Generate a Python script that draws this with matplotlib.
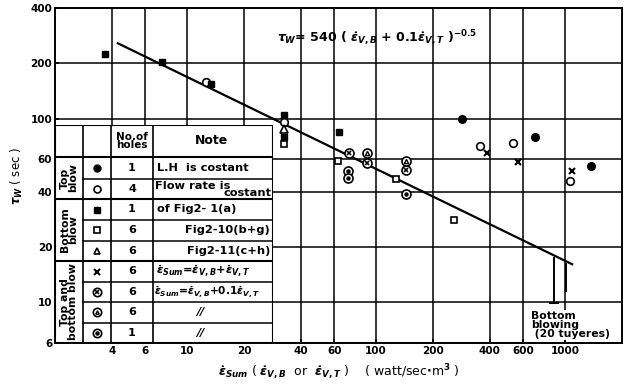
import numpy as np
import matplotlib.pyplot as plt

plt.rcParams['font.family'] = ['DejaVu Sans']
plt.rcParams['font.weight'] = 'bold'
plt.rcParams['mathtext.fontset'] = 'dejavusans'

# --- data ---
top1_x = [285, 690, 1370]            # top blow, 1 hole (filled circle)
top1_y = [99, 79, 55]
top4_x = [12.6, 32.6, 355, 530, 1060]  # top blow, 4 holes (open circle)
top4_y = [159, 96, 71, 74, 46]
bot1_x = [3.7, 7.4, 13.4, 32.6, 32.6, 64]  # bottom blow, 1 hole (filled square)
bot1_y = [224, 202, 155, 104, 79, 85]
bot6b_x = [32.6, 63, 128, 259]        # bottom blow, 6 holes (open square)
bot6b_y = [73, 59, 47, 28]
bot6c_x = [32.6]                      # bottom blow, 6 holes (triangle)
bot6c_y = [88]
tbsum_x = [387, 564, 1090]            # top+bottom, sum (cross)
tbsum_y = [65, 58, 52]
tbw_x = [72, 90, 144]                 # top+bottom, weighted (otimes)
tbw_y = [65, 57.5, 52.5]
tbtri_x = [90, 144]                   # circled triangle
tbtri_y = [65, 59]
tbdot_x = [71, 71, 144]               # circled dot
tbdot_y = [52, 47.5, 39]

fit_x = [4.3, 1090]
fit_y = [257, 16.1]

xticks = [4, 6, 10, 20, 40, 60, 100, 200, 400, 600, 1000]
yticks = [6, 10, 20, 40, 60, 100, 200, 400]

holes = ['1', '4', '1', '6', '6', '6', '6', '6', '1']
kinds = ['fcirc', 'ocirc', 'fsq', 'osq', 'tri', 'cross', 'otimes', 'ctri', 'odot']


def mark(a, x, y, kind, ms=5.5):
    kw = dict(ls='none', color='k', clip_on=False, zorder=5)
    if kind == 'fcirc':
        a.plot(x, y, 'o', ms=ms, mfc='k', mec='k', **kw)
    elif kind == 'ocirc':
        a.plot(x, y, 'o', ms=ms, mfc='white', mec='k', mew=1.2, **kw)
    elif kind == 'fsq':
        a.plot(x, y, 's', ms=ms - 0.5, mfc='k', mec='k', **kw)
    elif kind == 'osq':
        a.plot(x, y, 's', ms=ms - 0.5, mfc='white', mec='k', mew=1.2, **kw)
    elif kind == 'tri':
        a.plot(x, y, '^', ms=ms, mfc='white', mec='k', mew=1.2, **kw)
    elif kind == 'cross':
        a.plot(x, y, 'x', ms=ms - 0.5, mew=1.5, **kw)
    elif kind == 'otimes':
        a.plot(x, y, 'o', ms=ms + 1, mfc='white', mec='k', mew=1.2, **kw)
        a.plot(x, y, 'x', ms=ms - 2, mew=1.2, **kw)
    elif kind == 'ctri':
        a.plot(x, y, 'o', ms=ms + 1, mfc='white', mec='k', mew=1.2, **kw)
        a.plot(x, y, '^', ms=ms - 2.5, mfc='white', mec='k', mew=1, **kw)
    elif kind == 'odot':
        a.plot(x, y, 'o', ms=ms + 1, mfc='white', mec='k', mew=1.2, **kw)
        a.plot(x, y, 'o', ms=2.2, mfc='k', mec='k', **kw)


fig = plt.figure(figsize=(6.28, 3.87), dpi=100)
W, H = 628, 387
ax = fig.add_axes([55 / W, 1 - 343 / H, 567 / W, 335 / H])
ax.set_xscale('log')
ax.set_yscale('log')
ax.set_xlim(2, 2000)
ax.set_ylim(6, 400)
ax.set_xticks(xticks)
ax.set_xticklabels([str(t) for t in xticks])
ax.set_yticks(yticks)
ax.set_yticklabels([str(t) for t in yticks])
ax.minorticks_off()
ax.tick_params(labelsize=7.5, length=3, direction='in', width=1.2, pad=2)
for lab in ax.get_xticklabels() + ax.get_yticklabels():
    lab.set_fontweight('bold')
ax.grid(True, color='k', lw=1.1)
for s in ax.spines.values():
    s.set_linewidth(1.4)

ax.plot(fit_x, fit_y, color='k', lw=1.6, zorder=4)

mark(ax, top1_x, top1_y, 'fcirc')
mark(ax, top4_x, top4_y, 'ocirc')
mark(ax, bot1_x, bot1_y, 'fsq')
mark(ax, bot6b_x, bot6b_y, 'osq')
mark(ax, bot6c_x, bot6c_y, 'tri')
mark(ax, tbsum_x, tbsum_y, 'cross')
mark(ax, tbw_x, tbw_y, 'otimes')
mark(ax, tbtri_x, tbtri_y, 'ctri')
mark(ax, tbdot_x, tbdot_y, 'odot')

# bottom blowing bracket
ax.plot([875, 875], [17.4, 9.9], color='k', lw=1.4)
ax.plot([830, 920], [9.9, 9.9], color='k', lw=1.4)
ax.plot([1010, 1010], [16.1, 11.5], color='k', lw=1.4)
ax.text(660, 9.0, 'Bottom\nblowing\n (20 tuyeres)', fontsize=7.8, fontweight='bold',
        va='top', ha='left', linespacing=0.9,
        bbox=dict(facecolor='white', edgecolor='none', pad=0.5))

ax.text(30, 275,
        r'$\tau_W$= 540 ( $\dot{\varepsilon}_{V,B}$ + 0.1$\dot{\varepsilon}_{V,T}$ )$^{-0.5}$',
        fontsize=9, va='center', ha='left')

ax.set_ylabel(r'$\tau_W$ ( sec )', fontsize=8.5, labelpad=4)
ax.set_xlabel(r'$\dot{\varepsilon}_{Sum}$ ( $\dot{\varepsilon}_{V,B}$  or  $\dot{\varepsilon}_{V,T}$ )'
              '    ( watt/sec$\\cdot$m$^3$ )', fontsize=9, labelpad=5)

# --- legend table drawn in pixel units ---
tab = fig.add_axes([55 / W, 1 - 343 / H, (273 - 55) / W, (343 - 125) / H], zorder=10)
tab.set_xlim(55, 273)
tab.set_ylim(343, 125)
tab.axis('off')
tab.add_patch(plt.Rectangle((55, 125), 218, 218, facecolor='white', edgecolor='k', lw=1.5))
cols = [55, 83, 111, 153, 273]
rows = [125, 157, 178.5, 199, 220, 240.5, 261, 282, 302, 322.5, 343]
for c in cols[1:-1]:
    tab.plot([c, c], [125, 343], color='k', lw=1.2)
for i, r in enumerate(rows[1:-1], start=1):
    x0 = 55 if r in (157, 199, 261) else 83
    tab.plot([x0, 273], [r, r], color='k', lw=1.5 if x0 == 55 else 1.1)

tab.text(132, 141, 'No.of\nholes', fontsize=7.5, fontweight='bold', ha='center', va='center',
         linespacing=0.85)
tab.text(212, 141, 'Note', fontsize=9, fontweight='bold', ha='center', va='center')

groups = [('Top\nblow', 157, 199), ('Bottom\nblow', 199, 261), ('Top and\nbottom blow', 261, 343)]
for g, a, b in groups:
    tab.text(69, (a + b) / 2, g, rotation=90, fontsize=7.8, fontweight='bold',
             ha='center', va='center', linespacing=0.8)

for i, (k, h) in enumerate(zip(kinds, holes)):
    yc = (rows[i + 1] + rows[i + 2]) / 2
    mark(tab, [97], [yc], k, ms=5)
    tab.text(132, yc, h, fontsize=8, fontweight='bold', ha='center', va='center')

def rc(i):
    return (rows[i + 1] + rows[i + 2]) / 2

tfs = 8.2
tab.text(157, rc(0), 'L.H  is costant', fontsize=tfs, fontweight='bold', va='center')
tab.text(155, rc(1) - 3, 'Flow rate is', fontsize=tfs, fontweight='bold', va='center')
tab.text(271, rc(1) + 4.5, 'costant', fontsize=tfs, fontweight='bold', va='center', ha='right')
tab.text(157, rc(2), 'of Fig2- 1(a)', fontsize=tfs, fontweight='bold', va='center')
tab.text(270, rc(3), 'Fig2-10(b+g)', fontsize=tfs, fontweight='bold', va='center', ha='right')
tab.text(270, rc(4), 'Fig2-11(c+h)', fontsize=tfs, fontweight='bold', va='center', ha='right')
tab.text(156, rc(5), r'$\dot{\varepsilon}_{Sum}$=$\dot{\varepsilon}_{V,B}$+$\dot{\varepsilon}_{V,T}$',
         fontsize=8.2, va='center')
tab.text(154, rc(6), r'$\dot{\varepsilon}_{Sum}$=$\dot{\varepsilon}_{V,B}$+0.1$\dot{\varepsilon}_{V,T}$',
         fontsize=7.6, va='center')
tab.text(200, rc(7), '//', fontsize=tfs, style='italic', va='center', ha='center')
tab.text(200, rc(8), '//', fontsize=tfs, style='italic', va='center', ha='center')

fig.savefig('out.png', dpi=100)
